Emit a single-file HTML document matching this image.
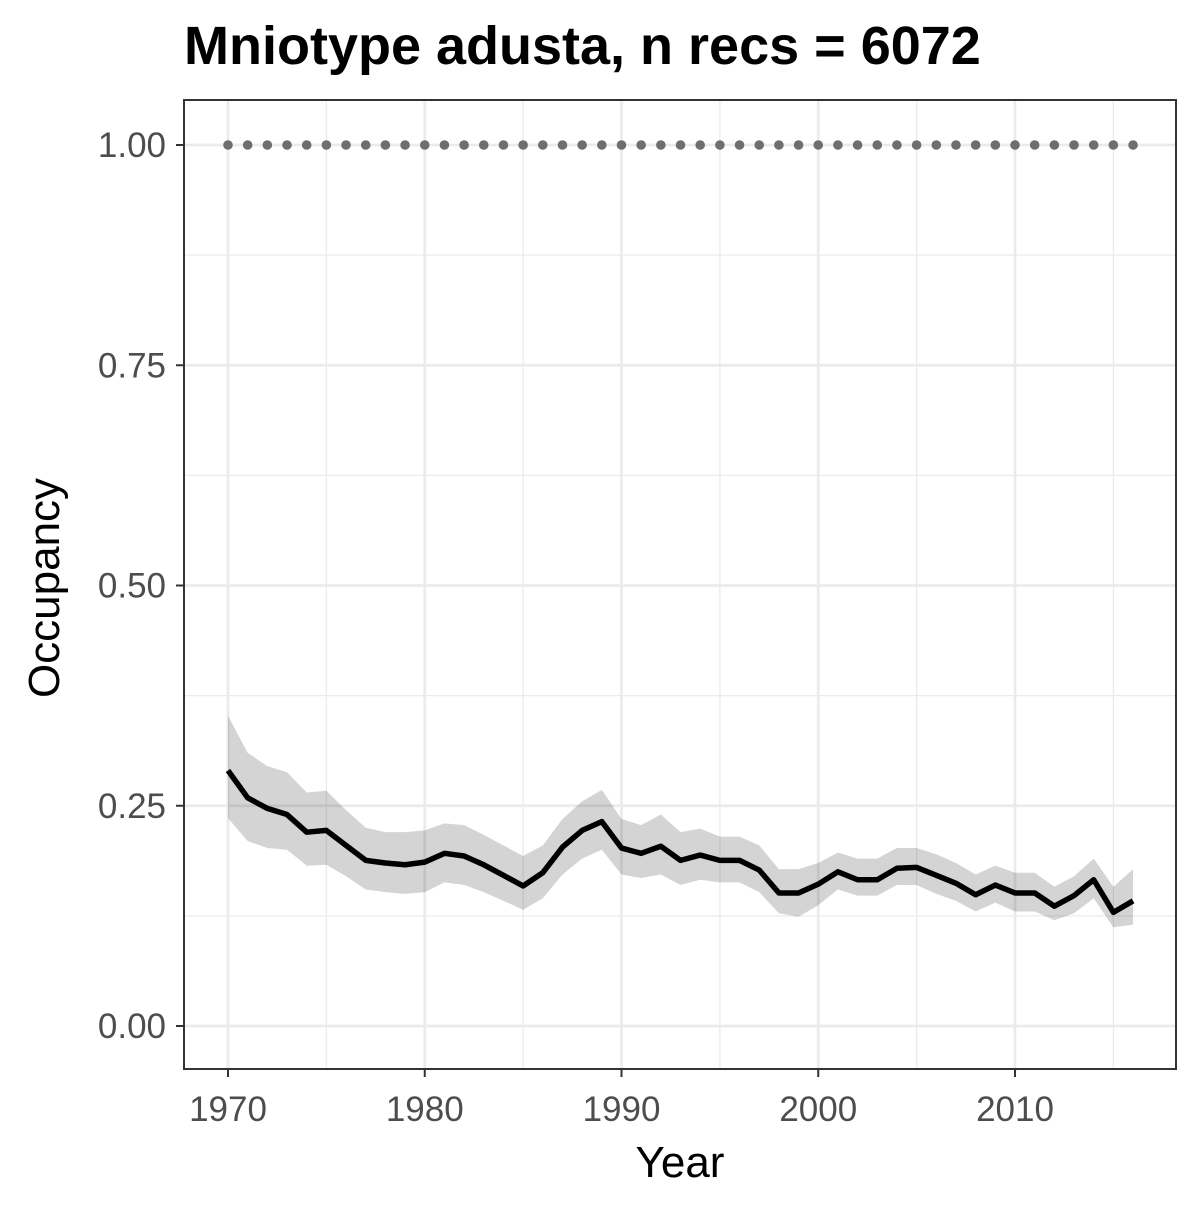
<!DOCTYPE html>
<html><head><meta charset="utf-8"><style>
body{margin:0;background:#fff;}
svg text{font-family:"Liberation Sans",Arial,sans-serif;}
</style></head><body>
<svg id="chart" width="1200" height="1200" viewBox="0 0 1200 1200" xmlns="http://www.w3.org/2000/svg">
<rect width="1200" height="1200" fill="#fff"/>
<text x="184" y="64" font-size="54" font-weight="bold" fill="#000">Mniotype adusta, n recs = 6072</text>
<g id="grid"></g>
<g id="marks"></g>
<rect x="184" y="100" width="992" height="969" fill="none" stroke="#333" stroke-width="2"/>
<g id="axes"></g>
<text x="680" y="1177" font-size="44" text-anchor="middle" fill="#000">Year</text>
<text transform="translate(59,588) rotate(-90)" font-size="44" text-anchor="middle" fill="#000">Occupancy</text>
</svg>
<script>
const years=[1970,1971,1972,1973,1974,1975,1976,1977,1978,1979,1980,1981,1982,1983,1984,1985,1986,1987,1988,1989,1990,1991,1992,1993,1994,1995,1996,1997,1998,1999,2000,2001,2002,2003,2004,2005,2006,2007,2008,2009,2010,2011,2012,2013,2014,2015,2016];
const occupancy=[0.29,0.259,0.247,0.24,0.22,0.222,0.205,0.188,0.185,0.183,0.186,0.196,0.193,0.183,0.171,0.159,0.174,0.203,0.222,0.232,0.202,0.196,0.204,0.188,0.194,0.188,0.188,0.177,0.151,0.151,0.161,0.175,0.166,0.166,0.179,0.18,0.171,0.162,0.149,0.16,0.151,0.151,0.136,0.148,0.166,0.129,0.142];
const upper=[0.352,0.31,0.295,0.288,0.265,0.267,0.245,0.225,0.22,0.22,0.222,0.23,0.228,0.217,0.205,0.193,0.205,0.235,0.255,0.268,0.235,0.228,0.24,0.22,0.224,0.215,0.215,0.205,0.178,0.178,0.185,0.197,0.19,0.19,0.202,0.202,0.195,0.185,0.172,0.182,0.174,0.174,0.158,0.17,0.19,0.158,0.178];
const lower=[0.236,0.21,0.202,0.2,0.182,0.183,0.17,0.155,0.152,0.15,0.152,0.163,0.16,0.152,0.142,0.132,0.145,0.172,0.19,0.2,0.172,0.168,0.172,0.16,0.166,0.163,0.163,0.152,0.128,0.124,0.137,0.155,0.148,0.148,0.16,0.16,0.15,0.142,0.13,0.14,0.13,0.13,0.12,0.128,0.145,0.112,0.115];
const referenceLine=1.0;
const xTicks=[1970,1980,1990,2000,2010];
const yTicks=[0,0.25,0.5,0.75,1.0];
const yTickLabels=["0.00","0.25","0.50","0.75","1.00"];

const NS="http://www.w3.org/2000/svg";
const X=v=>228+(v-1970)*19.675;
const Y=v=>1026-v*881;
function mk(tag,attrs,parent){const e=document.createElementNS(NS,tag);for(const k in attrs)e.setAttribute(k,attrs[k]);parent.appendChild(e);return e;}
const grid=document.getElementById('grid'),marks=document.getElementById('marks'),axes=document.getElementById('axes');
mk('rect',{x:184,y:100,width:992,height:969,fill:'#fff'},grid);
for(let i=0;i<yTicks.length-1;i++){const v=(yTicks[i]+yTicks[i+1])/2;const l=mk('line',{x1:184,x2:1176,y1:Y(v),y2:Y(v),stroke:'#ebebeb','stroke-width':1.3},grid);

}
for(let i=0;i<xTicks.length;i++){const v=xTicks[i]+5;if(X(v)<1176){const l=mk('line',{x1:X(v),x2:X(v),y1:100,y2:1069,stroke:'#ebebeb','stroke-width':1.3},grid);

}}
yTicks.forEach((v,i)=>{const l=mk('line',{x1:184,x2:1176,y1:Y(v),y2:Y(v),stroke:'#ebebeb','stroke-width':2.7},grid);


const t=mk('line',{x1:176,x2:184,y1:Y(v),y2:Y(v),stroke:'#333','stroke-width':2},axes);


const tx=mk('text',{x:166,y:Y(v)+12,'font-size':35,'text-anchor':'end',fill:'#4d4d4d'},axes);tx.textContent=yTickLabels[i];

});
xTicks.forEach(v=>{const l=mk('line',{x1:X(v),x2:X(v),y1:100,y2:1069,stroke:'#ebebeb','stroke-width':2.7},grid);


const t=mk('line',{x1:X(v),x2:X(v),y1:1069,y2:1077,stroke:'#333','stroke-width':2},axes);


const tx=mk('text',{x:X(v),y:1121,'font-size':35,'text-anchor':'middle',fill:'#4d4d4d'},axes);tx.textContent=v;

});
let d=years.map((y,i)=>(i?'L':'M')+X(y)+','+Y(upper[i])).join('');
for(let i=years.length-1;i>=0;i--)d+='L'+X(years[i])+','+Y(lower[i]);
const band=mk('path',{d:d+'Z',fill:'#000','fill-opacity':0.17},marks);


const line=mk('path',{d:years.map((y,i)=>(i?'L':'M')+X(y)+','+Y(occupancy[i])).join(''),fill:'none',stroke:'#000','stroke-width':5.5,'stroke-linejoin':'round'},marks);


years.forEach(y=>{const c=mk('circle',{cx:X(y),cy:Y(referenceLine),r:4.8,fill:'#6e6e6e'},marks);

});
</script>
</body></html>
